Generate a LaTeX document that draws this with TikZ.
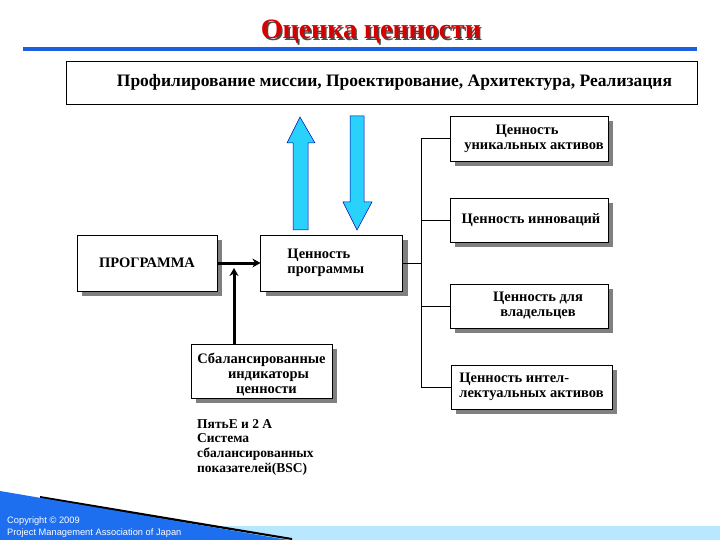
\documentclass[tikz,border=0pt]{standalone}
\usepackage{fontspec}
\setmainfont{Liberation Serif}
\setsansfont{Liberation Sans}
\usetikzlibrary{arrows.meta, positioning, shadows}

\definecolor{titlered}{RGB}{215,0,0}
\definecolor{rulerblue}{RGB}{26,96,224}
\definecolor{wedgeblue}{RGB}{30,110,240}
\definecolor{stripblue}{RGB}{184,232,255}
\definecolor{arrowcyan}{RGB}{40,210,250}

\begin{document}
\begin{tikzpicture}[x=1pt, y=-1pt,
    valuebox/.style={rectangle, draw, fill=white, line width=0.8pt, inner sep=0pt,
        align=center, font=\fontsize{14.5}{15}\selectfont\bfseries,
        drop shadow={shadow xshift=5pt, shadow yshift=-5pt, fill=gray, opacity=1}},
    plaintext/.style={rectangle, align=left, inner sep=0pt,
        font=\fontsize{13.5}{14.7}\selectfont\bfseries},
    bigarrow/.style={fill=arrowcyan, draw=blue!70!black, line width=0.5pt},
    thickarrow/.style={line width=3pt, -{Stealth[length=8pt, width=9pt]}},
    bus/.style={line width=0.8pt}]

    \useasboundingbox (0,0) rectangle (720,540);

    % title and ruler
    \node[text=black!70, font=\fontsize{28}{32}\selectfont\bfseries] at (372.5,33.5) {Оценка ценности};
    \node[text=titlered, font=\fontsize{28}{32}\selectfont\bfseries] (title) at (371,32) {Оценка ценности};
    \draw[rulerblue, line width=4.5pt] (23,49) -- (697,49);

    % top box
    \node[rectangle, draw, line width=0.8pt, minimum width=631pt, minimum height=43pt,
        font=\fontsize{17.5}{20}\selectfont\bfseries] (phases) at (381.5,82.5)
        {\hspace*{26pt}Профилирование миссии, Проектирование, Архитектура, Реализация};

    % cyan arrows
    \draw[bigarrow] (293,230) -- (293,143) -- (287,143) -- (300,117) -- (315,143)
        -- (308,143) -- (308,230) -- cycle;
    \draw[bigarrow] (350,116) -- (350,202) -- (343,202) -- (357,230) -- (372,202)
        -- (364,202) -- (364,116) -- cycle;

    % boxes
    \node[valuebox, minimum width=140pt, minimum height=56pt] (prog) at (147,263)
        {ПРОГРАММА};
    \node[valuebox, minimum width=142pt, minimum height=56pt, align=left] (progval)
        [right=43pt of prog] {Ценность\\программы\hspace*{12pt}};

    \node[valuebox, minimum width=158pt, minimum height=45pt] (uniq) at (529,138.5)
        {\hspace*{-4pt}Ценность\\\hspace*{10pt}уникальных активов};
    \node[valuebox, minimum width=158pt, minimum height=44pt] (innov) at (529,220)
        {\hspace*{4pt}Ценность инноваций};
    \node[valuebox, minimum width=158pt, minimum height=44pt] (owners) at (529,306)
        {\hspace*{18pt}Ценность для\\\hspace*{18pt}владельцев};
    \node[valuebox, minimum width=161pt, minimum height=44pt, align=left] (intel)
        at (531.5,387) {Ценность интел-\\лектуальных активов};

    \node[valuebox, minimum width=141pt, minimum height=54pt] (bsc) at (261.5,371)
        {\rule{0pt}{18pt}Сбалансированные\\\hspace*{14pt}индикаторы\\\hspace*{10pt}ценности};

    \node[plaintext, anchor=north west] (bsctext) at (197,419)
        {ПятьЕ и 2 А\\Система\\сбалансированных\\показателей(BSC)};

    % connectors
    \coordinate (join) at (234,268);
    \draw[thickarrow] (prog) -- (progval);
    \draw[thickarrow] (bsc.north -| join) -- (join);

    \coordinate (busx) at (421,0);
    \draw[bus] (progval.east) -- (progval.east -| busx);
    \draw[bus] (uniq.west) -| (busx |- intel.west) -- (intel.west);
    \draw[bus] (innov.west) -- (innov.west -| busx);
    \draw[bus] (owners.west) -- (owners.west -| busx);

    % footer
    \fill[stripblue] (0,526) rectangle (720,540);
    \fill[black] (40,496) -- (292,538) -- (292,540) -- (40,499) -- cycle;
    \fill[wedgeblue] (0,491) -- (288,540) -- (0,540) -- cycle;
    \node[text=white, anchor=west, align=left, inner sep=0pt,
        font=\sffamily\fontsize{9.3}{12}\selectfont] (copy) at (7,527)
        {Copyright © 2009\\Project Management Association of Japan};
\end{tikzpicture}
\end{document}
